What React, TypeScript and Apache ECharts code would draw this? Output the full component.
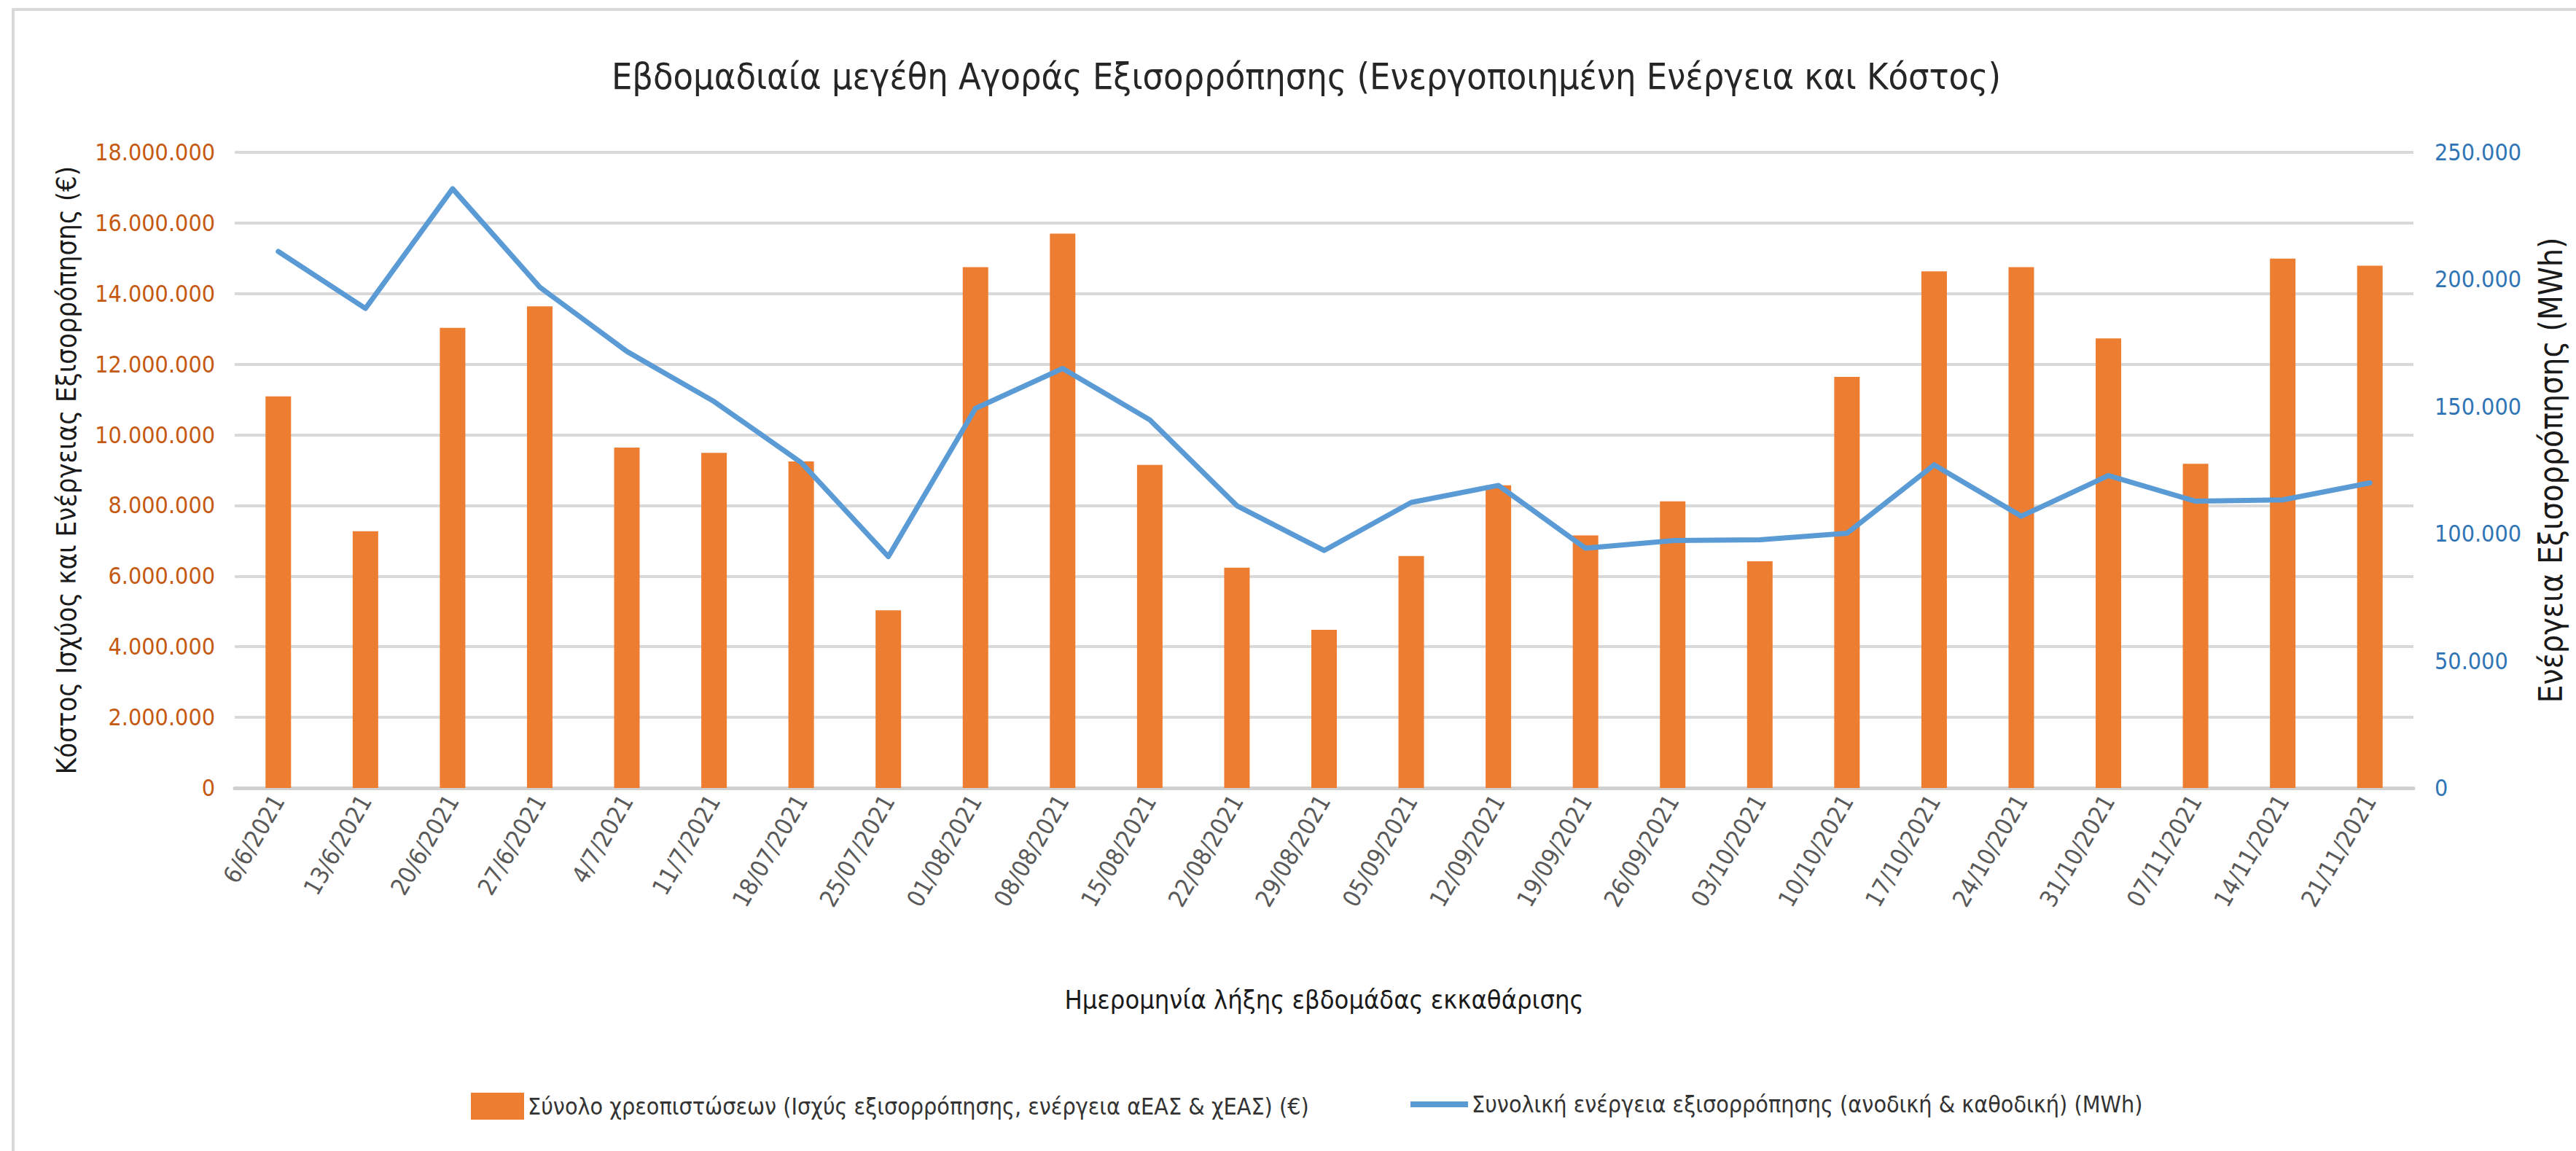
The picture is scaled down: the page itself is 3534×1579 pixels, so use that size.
import React, { useEffect, useRef } from "react";
import * as echarts from "echarts";

const titleText = "Εβδομαδιαία μεγέθη Αγοράς Εξισορρόπησης (Ενεργοποιημένη Ενέργεια και Κόστος)";
const xAxisTitle = "Ημερομηνία λήξης εβδομάδας εκκαθάρισης";
const leftAxisTitle = "Κόστος Ισχύος και Ενέργειας Εξισορρόπησης (€)";
const rightAxisTitle = "Ενέργεια Εξισορρόπησης (MWh)";
const barSeriesName = "Σύνολο χρεοπιστώσεων (Ισχύς εξισορρόπησης, ενέργεια αΕΑΣ & χΕΑΣ) (€)";
const lineSeriesName = "Συνολική ενέργεια εξισορρόπησης (ανοδική & καθοδική) (MWh)";

const categories = [
  "6/6/2021", "13/6/2021", "20/6/2021", "27/6/2021", "4/7/2021", "11/7/2021",
  "18/07/2021", "25/07/2021", "01/08/2021", "08/08/2021", "15/08/2021", "22/08/2021",
  "29/08/2021", "05/09/2021", "12/09/2021", "19/09/2021", "26/09/2021", "03/10/2021",
  "10/10/2021", "17/10/2021", "24/10/2021", "31/10/2021", "07/11/2021", "14/11/2021",
  "21/11/2021",
];

const costValues = [
  11090000, 7270000, 13030000, 13640000, 9640000, 9490000,
  9250000, 5030000, 14750000, 15700000, 9150000, 6240000,
  4480000, 6570000, 8570000, 7150000, 8120000, 6420000,
  11640000, 14630000, 14750000, 12730000, 9180000, 14990000,
  14790000,
];

const energyValues = [
  211000, 188600, 235700, 197000, 171700, 152000,
  128000, 91000, 149300, 165000, 144800, 111000,
  93400, 112300, 119000, 94300, 97300, 97600,
  100200, 127100, 106900, 122900, 112800, 113300,
  120000,
];

const leftAxisMax = 18000000;
const leftAxisStep = 2000000;
const rightAxisMax = 250000;
const rightAxisStep = 50000;

const FONT = "'DejaVu Sans Condensed', 'Liberation Sans', Arial, sans-serif";

function fmt(v: number): string {
  return String(Math.round(v)).replace(/\B(?=(\d{3})+(?!\d))/g, ".");
}

export default function App() {
  const ref = useRef<HTMLDivElement | null>(null);

  useEffect(() => {
    if (!ref.current) return;
    const chart = echarts.init(ref.current, undefined, { renderer: "svg" });
    const option: any = {
      animation: false,
      backgroundColor: "#ffffff",
      textStyle: { fontFamily: FONT },
      title: {
        text: titleText,
        left: 1792,
        top: 80,
        textAlign: "center",
        padding: 0,
        textStyle: { fontFamily: FONT, fontSize: 50, fontWeight: "normal", color: "#262626" },
      },
      graphic: [
        {
          type: "rect",
          silent: true,
          z: -10,
          shape: { x: 18, y: 13, width: 3600, height: 1700 },
          style: { fill: "none", stroke: "#D9D9D9", lineWidth: 4 },
        },
      ],
      legend: [
        {
          data: [{ name: barSeriesName, icon: "rect" }],
          left: 646,
          top: 1499,
          padding: 0,
          itemWidth: 73,
          itemHeight: 37,
          selectedMode: false,
          textStyle: { fontFamily: FONT, fontSize: 32, color: "#333333" },
        },
        {
          data: [{ name: lineSeriesName, icon: "rect" }],
          left: 1935,
          top: 1499,
          padding: 0,
          itemWidth: 79,
          itemHeight: 8,
          selectedMode: false,
          textStyle: { fontFamily: FONT, fontSize: 32, color: "#333333" },
        },
      ],
      grid: { left: 322, right: 223, top: 209, bottom: 498, containLabel: false },
      xAxis: {
        type: "category",
        data: categories,
        boundaryGap: true,
        axisTick: { show: false },
        axisLine: { show: true, lineStyle: { color: "#D0D0D0", width: 5 } },
        axisLabel: {
          interval: 0,
          rotate: 60,
          margin: 12,
          fontFamily: FONT,
          fontSize: 33,
          color: "#595959",
        },
        name: xAxisTitle,
        nameLocation: "middle",
        nameGap: 272,
        nameTextStyle: { fontFamily: FONT, fontSize: 36, color: "#1a1a1a" },
      },
      yAxis: [
        {
          type: "value",
          min: 0,
          max: leftAxisMax,
          interval: leftAxisStep,
          axisLine: { show: false },
          axisTick: { show: false },
          splitLine: { show: true, lineStyle: { color: "#D9D9D9", width: 4 } },
          axisLabel: {
            margin: 27,
            fontFamily: FONT,
            fontSize: 32,
            color: "#C65911",
            formatter: (v: number) => fmt(v),
          },
          name: leftAxisTitle,
          nameLocation: "middle",
          nameRotate: 90,
          nameGap: 212,
          nameTextStyle: { fontFamily: FONT, fontSize: 38, color: "#1a1a1a" },
        },
        {
          type: "value",
          min: 0,
          max: rightAxisMax,
          interval: rightAxisStep,
          position: "right",
          axisLine: { show: false },
          axisTick: { show: false },
          splitLine: { show: false },
          axisLabel: {
            margin: 29,
            fontFamily: FONT,
            fontSize: 32,
            color: "#2F75B5",
            formatter: (v: number) => fmt(v),
          },
          name: rightAxisTitle,
          nameLocation: "middle",
          nameRotate: 90,
          nameGap: 166,
          nameTextStyle: { fontFamily: FONT, fontSize: 44, color: "#1a1a1a" },
        },
      ],
      series: [
        {
          name: barSeriesName,
          type: "bar",
          yAxisIndex: 0,
          data: costValues,
          barWidth: 35,
          itemStyle: { color: "#ED7D31" },
          z: 2,
        },
        {
          name: lineSeriesName,
          type: "line",
          yAxisIndex: 1,
          data: energyValues,
          symbol: "none",
          showSymbol: false,
          lineStyle: { color: "#5B9BD5", width: 7, join: "round", cap: "round" },
          itemStyle: { color: "#5B9BD5" },
          z: 3,
        },
      ],
    };
    chart.setOption(option);
    return () => {
      chart.dispose();
    };
  }, []);

  return (
    <div
      ref={ref}
      style={{ position: "absolute", left: 0, top: 0, width: 3534, height: 1579, background: "#fff" }}
    />
  );
}
